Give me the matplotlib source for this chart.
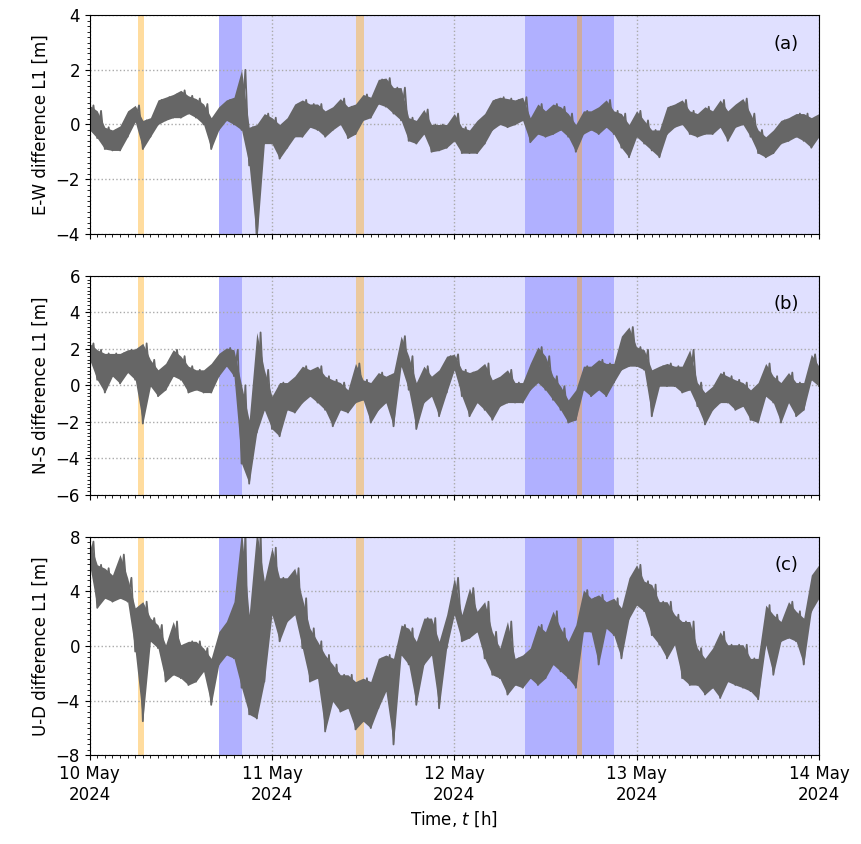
import numpy as np
import pandas as pd
import matplotlib
matplotlib.use('Agg')
import matplotlib.pyplot as plt
import matplotlib.dates as mdates
from matplotlib.ticker import MultipleLocator

# hourly samples, 10 May 00:00 -> 14 May 00:00
times = pd.date_range('2024-05-10 00:00', '2024-05-14 00:00', freq='1h')

# envelope of the trace in each hour (low / high) [m]
ew_hi = [0.7, 0.5, -0.1, -0.2, -0.05, 0.5, 0.7, 0.15, 0.25, 0.9, 1.0, 1.1, 1.25, 1.05, 0.95, 0.75,
         0.25, 0.65, 0.9, 1.0, 2.0, -0.1, 0.0, 0.4, 0.25, 0.0, 0.25, 0.75, 0.9, 0.75, 0.75, 0.5,
         0.65, 0.95, 0.65, 0.75, 1.1, 1.0, 1.65, 1.7, 1.35, 1.35, 0.25, 0.15, 0.55, 0.0, 0.0, 0.0,
         0.4, -0.1, -0.2, 0.15, 0.4, 0.9, 1.0, 0.95, 0.9, 1.0, 0.25, 0.75, 0.5, 0.75, 0.65, 0.4,
         0.0, 0.5, 0.5, 0.65, 0.9, 0.5, 0.4, 0.0, 0.5, 0.15, -0.2, -0.2, 0.65, 0.75, 0.9, 0.5,
         0.4, 0.65, 0.5, 0.9, 0.5, 0.75, 0.95, 0.4, -0.2, -0.45, -0.2, 0.15, 0.25, 0.4, 0.4, 0.25, 0.4]
ew_lo = [-0.2, -0.5, -0.9, -0.95, -0.95, -0.45, 0.1, -0.9, -0.45, 0.0, 0.15, 0.25, 0.25, 0.4, 0.25, 0.0,
         -0.9, -0.2, 0.15, 0.0, -0.2, -1.5, -4.3, -0.7, -0.7, -1.25, -0.85, -0.45, -0.45, -0.1, -0.2, -0.45,
         -0.2, 0.0, -0.5, -0.35, 0.15, 0.25, 0.75, 0.65, 0.4, 0.15, -0.6, -0.7, -0.35, -1.0, -0.95, -0.85,
         -0.6, -1.05, -1.05, -1.05, -0.7, -0.2, 0.0, -0.1, 0.0, 0.15, -0.65, -0.35, -0.45, -0.35, -0.2, -0.45,
         -1.0, -0.35, -0.2, -0.35, -0.1, -0.35, -0.85, -1.2, -0.45, -0.7, -0.95, -1.2, -0.35, -0.1, 0.0, -0.35,
         -0.45, -0.35, -0.35, -0.1, -0.6, -0.1, 0.0, -0.45, -1.05, -1.2, -1.05, -0.7, -0.6, -0.45, -0.6, -0.85, -0.45]

ns_hi = [2.3, 1.95, 1.75, 1.75, 1.75, 1.95, 2.0, 2.3, 1.4, 0.85, 1.2, 1.95, 1.6, 1.05, 0.85, 0.85,
         1.2, 1.75, 2.05, 1.95, 0.0, -1.9, 2.9, 0.85, -0.6, 0.15, 0.15, 0.5, 1.05, 0.85, 1.05, 0.5,
         0.3, 0.15, -0.25, 1.2, 0.3, 0.15, 0.7, 0.5, 0.7, 2.7, 1.6, 0.15, 1.05, 0.5, 0.85, 1.6,
         1.7, 0.85, 0.7, 0.85, 1.2, 0.3, 0.5, 0.85, 0.15, 0.15, 1.2, 2.1, 1.6, 0.5, -0.05, -0.8,
         -0.25, 1.05, 1.05, 1.4, 1.2, 1.2, 2.7, 3.2, 2.1, 1.95, 0.85, 1.05, 1.2, 1.05, 1.05, 1.95,
         0.15, -0.4, -0.05, 0.7, 0.5, 0.3, 0.15, -0.25, 0.15, 1.2, 0.5, 0.15, 0.7, 0.15, 0.15, 1.7, 1.05]
ns_lo = [1.4, 0.3, -0.4, 0.5, 0.1, 0.7, 0.3, -2.1, -0.05, -0.6, -0.25, 0.5, 0.3, -0.4, -0.25, -0.4,
         -0.4, 0.5, 1.05, 0.5, -4.3, -5.4, -2.6, -1.35, -2.4, -2.8, -1.35, -1.5, -0.95, -0.6, -0.95, -1.35,
         -2.25, -1.35, -1.5, -0.95, -0.8, -2.05, -1.35, -0.95, -2.25, 1.05, -0.25, -2.4, -0.95, -0.6, -1.7, -0.4,
         0.85, -0.6, -1.7, -0.95, -1.35, -1.9, -1.15, -0.95, -0.95, -0.95, -0.25, 0.15, -0.25, -0.8, -1.35, -2.05,
         -1.9, -0.25, -0.6, -0.25, -0.6, 0.15, 0.85, 1.05, 1.05, 0.85, -1.7, -0.05, -0.05, -0.05, -0.4, -0.25,
         -1.15, -2.15, -1.35, -0.95, -0.95, -1.35, -1.15, -1.9, -2.05, -0.6, -0.95, -2.05, -0.95, -1.7, -1.35, 0.3, -0.05]

ud_hi = [7.65, 5.95, 5.7, 5.2, 6.7, 5.0, 2.8, 3.25, 2.05, 1.55, 0.1, 1.8, 0.1, 0.35, 0.35, -0.15,
         -0.9, 1.05, 1.8, 3.25, 8.5, 2.3, 8.5, 4.75, 7.2, 5.0, 5.0, 5.7, 3.5, 1.3, 0.35, -0.65,
         -1.35, -2.1, -2.1, -2.6, -2.35, -2.6, -0.9, -0.65, -0.9, 1.55, 1.3, 0.35, 2.05, 2.05, 0.35, 2.3,
         5.0, 2.3, 4.25, 2.55, 3.25, 1.05, -0.15, 1.8, -0.9, -0.65, -0.15, 1.55, 1.05, 2.55, 1.3, 0.35,
         1.55, 4.1, 3.5, 3.75, 3.25, 3.5, 2.8, 5.0, 5.95, 4.75, 4.5, 3.25, 3.25, 2.3, 1.8, 1.8,
         -0.15, -0.9, -0.15, 1.05, 0.1, 0.1, 0.1, -0.9, -0.9, 3.0, 2.3, 1.8, 3.25, 2.55, 2.05, 5.2, 5.95]
ud_lo = [5.95, 2.8, 3.5, 3.25, 3.5, 3.25, -0.4, -5.5, 0.35, -0.15, -2.6, -2.1, -2.35, -2.85, -2.6, -1.85,
         -4.3, -1.35, -0.65, -0.9, -3.05, -5.0, -5.3, -2.6, 2.3, 0.35, 1.8, 2.3, -0.15, -2.6, -2.35, -6.25,
         -4.05, -4.8, -4.55, -6.1, -5.5, -6.0, -4.55, -3.3, -7.2, -0.65, -1.35, -4.3, -1.35, -0.65, -4.55, -0.15,
         2.3, 0.35, 0.6, 1.05, -0.9, -2.1, -2.35, -3.55, -2.85, -3.05, -2.35, -2.85, -2.35, -1.35, -1.85, -2.35,
         -3.05, 1.05, 1.05, -1.35, 1.3, 0.8, -0.9, 2.0, 3.0, 2.55, 0.8, 0.1, -0.9, 0.1, -2.35, -2.85,
         -2.85, -3.55, -3.05, -3.8, -2.6, -2.85, -3.05, -3.3, -3.9, 0.1, -2.1, 0.35, 0.6, 0.35, -1.35, 2.55, 3.5]

# shaded periods
storm_start = '2024-05-10 17:00'
main_phases = [('2024-05-10 17:00', '2024-05-10 20:00'), ('2024-05-12 09:20', '2024-05-12 21:00')]
events = [('2024-05-10 06:18', '2024-05-10 07:12'), ('2024-05-11 11:05', '2024-05-11 12:10'),
          ('2024-05-12 16:08', '2024-05-12 16:48')]

panels = [
    (ew_lo, ew_hi, 'E-W difference L1 [m]', (-4, 4), 2, '(a)'),
    (ns_lo, ns_hi, 'N-S difference L1 [m]', (-6, 6), 2, '(b)'),
    (ud_lo, ud_hi, 'U-D difference L1 [m]', (-8, 8), 4, '(c)'),
]

plt.rcParams['font.size'] = 12
fig, axes = plt.subplots(3, 1, figsize=(8.62, 8.44), dpi=100, sharex=True)
fig.subplots_adjust(left=0.104, right=0.950, top=0.982, bottom=0.105, hspace=0.193)

t_end = pd.Timestamp('2024-05-14 00:00')
half = pd.Timedelta('30min')
trace_col = '#666666'

for ax, (lo, hi, ylab, ylim, ystep, tag) in zip(axes, panels):
    ax.axvspan(pd.Timestamp(storm_start), t_end, color='blue', alpha=0.12, lw=0, zorder=0)
    for a, b in main_phases:
        ax.axvspan(pd.Timestamp(a), pd.Timestamp(b), color='blue', alpha=0.21, lw=0, zorder=1)
    for a, b in events:
        ax.axvspan(pd.Timestamp(a), pd.Timestamp(b), color='orange', alpha=0.38, lw=0, zorder=1)

    lo = np.array(lo)
    hi = np.array(hi)
    # zigzag between low and high to mimic the dense noisy trace
    tz = np.empty(2 * len(times), dtype='datetime64[ns]')
    tz[0::2] = times.values
    tz[1::2] = (times + half).values
    vz = np.empty(2 * len(times))
    vz[0::2] = lo
    vz[1::2] = hi
    ax.fill_between(times, lo, hi, color=trace_col, lw=0, zorder=3)
    ax.plot(tz, vz, color=trace_col, lw=1.3, zorder=3)

    ax.set_ylim(*ylim)
    ax.yaxis.set_major_locator(MultipleLocator(ystep))
    ax.yaxis.set_minor_locator(MultipleLocator(ystep / 10))
    ax.set_ylabel(ylab)
    ax.grid(True, which='major', linestyle=':', color='#aaaaaa', lw=1.0, zorder=2)
    ax.set_axisbelow(False)
    for sp in ax.spines.values():
        sp.set_zorder(5)
    ax.text(0.955, 0.87, tag, transform=ax.transAxes, ha='center', va='center', fontsize=13)

axes[-1].set_xlim(pd.Timestamp('2024-05-10 00:00'), t_end)
axes[-1].xaxis.set_major_locator(mdates.DayLocator())
axes[-1].xaxis.set_minor_locator(mdates.HourLocator())
axes[-1].xaxis.set_major_formatter(mdates.DateFormatter('%d %b\n%Y'))
axes[-1].set_xlabel('Time, $t$ [h]')

fig.savefig('out.png', dpi=100)
